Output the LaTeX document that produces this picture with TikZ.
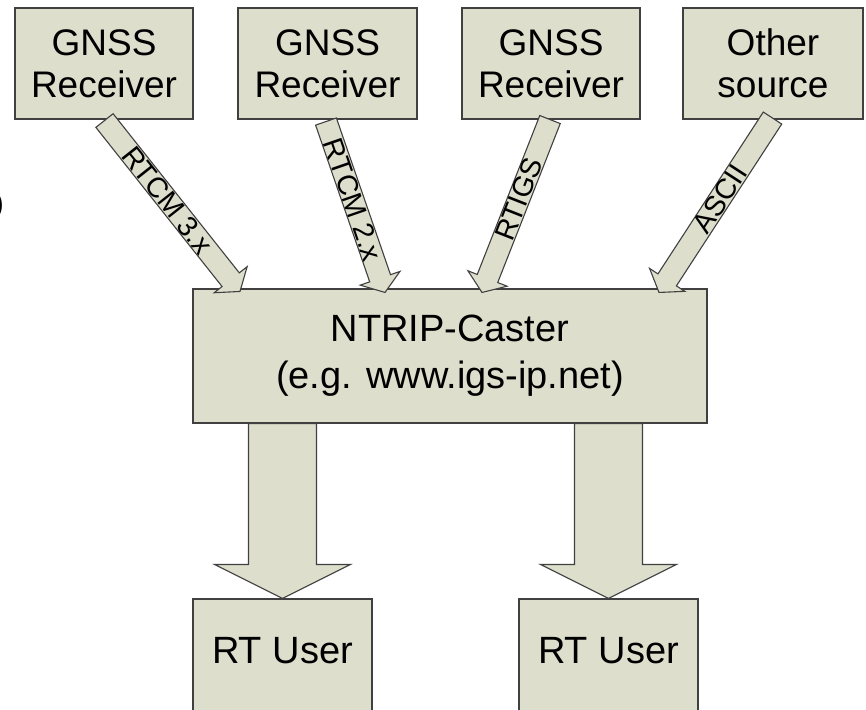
\documentclass[tikz,border=0pt]{standalone}
\usepackage{fontspec}
\setmainfont{Liberation Sans}
\usetikzlibrary{calc}
\definecolor{boxfill}{RGB}{221,223,204}
\definecolor{boxline}{RGB}{64,64,64}
\newcommand\fatarrow[5]{% tail, tip, shaft half, head half, head length
  \coordinate (#1base) at ($(#2)!#5!(#1)$);
  \draw[fat] ($(#1)!#3!90:(#2)$) -- ($(#1base)!#3!90:(#2)$) -- ($(#1base)!#4!90:(#2)$)
    -- (#2) -- ($(#1base)!#4!-90:(#2)$) -- ($(#1base)!#3!-90:(#2)$) -- ($(#1)!#3!-90:(#2)$) -- cycle;
}
\begin{document}
\begin{tikzpicture}[x=1pt,y=-1pt,
  box/.style={draw=boxline, fill=boxfill, line width=1.1pt, inner sep=0pt, align=center,
    font=\fontsize{37}{42}\selectfont},
  fat/.style={draw=boxline, fill=boxfill, line width=1.1pt, line join=miter},
  lbl/.style={font=\fontsize{28.5}{30}\selectfont, inner sep=0pt},
  big/.style={font=\fontsize{38}{47}\selectfont}]
\useasboundingbox (0,0) rectangle (866,709);
\fill[white] (0,0) rectangle (866,709);
% boxes
\node[box, minimum width=178pt, minimum height=111pt] (g1) at (104,63.5) {GNSS\\Receiver};
\node[box, minimum width=179pt, minimum height=111pt] (g2) at (327.5,63.5) {GNSS\\Receiver};
\node[box, minimum width=178pt, minimum height=111pt] (g3) at (551,63.5) {GNSS\\Receiver};
\node[box, minimum width=180pt, minimum height=111pt] (g4) at (773,63.5) {Other\\source};
\node[box, big, minimum width=514pt, minimum height=134pt] (caster) at (450,356) {NTRIP-Caster\\(e.g. www.igs-ip.net)};
\node[box, minimum width=179pt, minimum height=131pt] (u1) at (282.5,664.5) {};
\node[box, minimum width=179pt, minimum height=131pt] (u2) at (608.5,664.5) {};
\node[big, inner sep=0pt] (u1t) at (282.5,651) {RT User};
\node[big, inner sep=0pt] (u2t) at (608.5,651) {RT User};
% fragment at left edge
\node[anchor=east, font=\fontsize{30}{30}\selectfont, inner sep=0pt] (frag) at (4,206) {)};
% diagonal arrows
\coordinate (a1t) at ($(g1.south)+(0.5,1)$);
\coordinate (a1p) at ($(caster.north)+(-210,3)$);
\coordinate (a2t) at ($(g2.south)+(-1.5,2)$);
\coordinate (a2p) at ($(caster.north)+(-65,4)$);
\coordinate (a3t) at ($(g3.south)+(-1,0)$);
\coordinate (a3p) at ($(caster.north)+(32,4)$);
\coordinate (a4t) at ($(g4.south)+(-0.5,-1.5)$);
\coordinate (a4p) at ($(caster.north)+(209,4)$);
\fatarrow{a1t}{a1p}{11pt}{21pt}{15pt}
\fatarrow{a2t}{a2p}{11pt}{21pt}{15pt}
\fatarrow{a3t}{a3p}{11pt}{21pt}{15pt}
\fatarrow{a4t}{a4p}{11pt}{21pt}{15pt}
\path (a1t) -- (a1tbase) node[midway, sloped, lbl] {RTCM 3.x};
\path (a2t) -- (a2tbase) node[midway, sloped, lbl] {RTCM 2.x};
\path (a3t) -- (a3tbase) node[midway, sloped, lbl] {RTIGS};
\path (a4t) -- (a4tbase) node[midway, sloped, lbl] {ASCII};
% down arrows
\coordinate (b1t) at (u1.north |- caster.south);
\coordinate (b2t) at (u2.north |- caster.south);
\fatarrow{b1t}{u1.north}{34pt}{68pt}{34pt}
\fatarrow{b2t}{u2.north}{34pt}{68pt}{34pt}
\end{tikzpicture}
\end{document}
